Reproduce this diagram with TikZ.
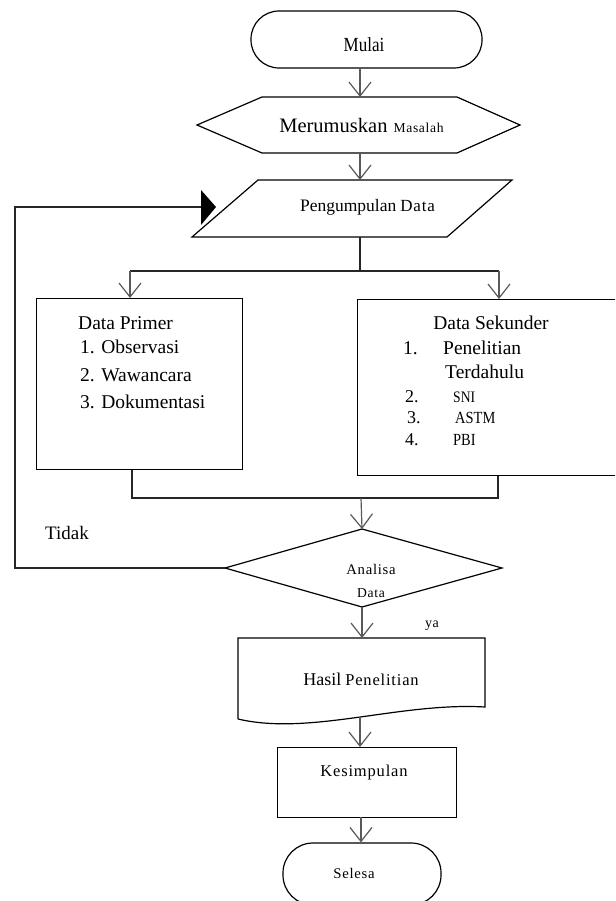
\documentclass[tikz,border=0pt]{standalone}
\usepackage{fontspec}
\setmainfont{Liberation Serif}
\newfontfamily\spc[LetterSpace=5]{Liberation Serif}
\newfontfamily\cnd[FakeStretch=0.85]{Liberation Serif}
\newcommand\fsz[1]{\fontsize{#1}{#1}\selectfont}
\usetikzlibrary{arrows.meta}
\begin{document}
\begin{tikzpicture}[x=1pt,y=-1pt,
  shp/.style={draw=black,line width=1.2pt},
  arr/.style={draw=black!65,line width=1.2pt,-{Straight Barb[length=14pt,width=22pt]}},
  ln/.style={draw=black!85,line width=1.3pt},
  txt/.style={inner sep=0pt}]
\useasboundingbox (0,0) rectangle (615,901);
\fill[white] (0,0) rectangle (615,901);
\clip (0,0) rectangle (615,901);

% Mulai
\node[shp,rounded corners=28pt,minimum width=231pt,minimum height=57pt,inner sep=0pt] (mulai) at (366.5,39.5) {};
\node[txt] (tmulai) at (364,45) {\cnd\fsz{20}Mulai};

% Merumuskan Masalah
\coordinate (hT) at (360,97);
\coordinate (hB) at (360,153);
\draw[shp] (197,125) -- (262,97) -- (457,97) -- (520,125) -- (457,153) -- (262,153) -- cycle;
\node[txt] (trumus) at (361.5,125) {\fsz{20.5}Merumuskan\hspace{6pt}{\spc\fsz{13.6}Masalah}};
\coordinate (m0) at (360,68);
\draw[arr] (m0) -- (hT);

% Pengumpulan Data
\coordinate (pT) at (360,180);
\coordinate (pB) at (360,237);
\draw[shp] (258,180) -- (512,180) -- (447,237) -- (192,237) -- cycle;
\node[txt] (tpeng) at (367.5,207) {\fsz{17.5}Pengumpulan\hspace{4pt}{\spc\fsz{17}Data}};
\draw[arr] (hB) -- (pT);

% branch
\coordinate (br) at (360,271);
\coordinate (brL) at (130,271);
\coordinate (brR) at (499,271);
\draw[ln] (pB) -- (br);
\draw[ln] (brL) -- (brR);

% Data Primer
\node[shp,anchor=north west,minimum width=206pt,minimum height=171pt,inner sep=0pt] (prim) at (36,298) {};
\draw[arr] (brL) -- (brL |- prim.north);
\node[txt,anchor=base west] (p0) at (78,329.5) {\fsz{19.5}Data Primer};
\node[txt,anchor=base west] (p1) at (80,353.5) {\fsz{19.5}1. Observasi};
\node[txt,anchor=base west] (p2) at (80,381.5) {\fsz{19.5}2. Wawancara};
\node[txt,anchor=base west] (p3) at (80,408.5) {\fsz{19.5}3. Dokumentasi};

% Data Sekunder
\node[shp,anchor=north west,minimum width=268pt,minimum height=176pt,inner sep=0pt] (sek) at (357,299) {};
\draw[arr] (brR) -- (brR |- sek.north);
\node[txt,anchor=base] (s0) at (491,329.5) {\fsz{19.5}Data Sekunder};
\node[txt,anchor=base west] (s1n) at (403,354.5) {\fsz{19.5}1.};
\node[txt,anchor=base west] (s1) at (443,354.5) {\fsz{19.5}Penelitian};
\node[txt,anchor=base west] (s1b) at (445,378.5) {\fsz{19.5}Terdahulu};
\node[txt,anchor=base west] (s2n) at (405,402) {\fsz{18}2.};
\node[txt,anchor=base west] (s2) at (453,402) {\cnd\fsz{16}SNI};
\node[txt,anchor=base west] (s3n) at (407,423) {\fsz{18}3.};
\node[txt,anchor=base west] (s3) at (455,423) {\cnd\fsz{17}ASTM};
\node[txt,anchor=base west] (s4n) at (405,445) {\fsz{18}4.};
\node[txt,anchor=base west] (s4) at (453,445) {\cnd\fsz{17}PBI};

% merge
\coordinate (mL) at (132,498);
\coordinate (mR) at (498,498);
\coordinate (mM) at (361,498);
\draw[ln] (mL |- prim.south) -- (mL) -- (mR) -- (mR |- sek.south);

% Analisa Data
\coordinate (dT) at (362,529);
\coordinate (dL) at (225,568);
\coordinate (dR) at (502,568);
\coordinate (dB) at (362,607);
\draw[shp] (dT) -- (dR) -- (dB) -- (dL) -- cycle;
\draw[arr] (mM) -- (dT);
\node[txt] (ta1) at (371,569) {\spc\fsz{14.7}Analisa};
\node[txt] (ta2) at (371,593) {\spc\fsz{13.6}Data};

% loop (Tidak)
\coordinate (lp1) at (15,568);
\coordinate (lp2) at (15,207);
\coordinate (lpE) at (203,207);
\draw[ln] (dL) -- (lp1) -- (lp2) -- (lpE);
\fill[black] (201,190) -- (216,207) -- (201,225) -- cycle;
\node[txt,anchor=base west] (tidak) at (45,539) {\fsz{19}Tidak};

% ya
\node[txt] (tya) at (432,626) {\spc\fsz{14}ya};

% Hasil Penelitian
\coordinate (hsT) at (362,638);
\coordinate (hsB) at (360,717);
\draw[shp] (238,719) -- (238,638) -- (485,638) -- (485,707) .. controls (400,702) and (310,736) .. (238,719);
\draw[arr] (dB) -- (hsT);
\node[txt] (thasil) at (361,679) {\fsz{18}Hasil\hspace{4pt}{\spc\fsz{16.5}Penelitian}};

% Kesimpulan
\node[shp,anchor=north west,minimum width=179pt,minimum height=70pt,inner sep=0pt] (kes) at (277,747) {};
\draw[arr] (hsB) -- (hsB |- kes.north);
\node[txt] (tkes) at (364,773) {\spc\fsz{16.5}Kesimpulan};

% Selesai
\node[shp,rounded corners=30pt,minimum width=158pt,minimum height=62pt,inner sep=0pt] (sel) at (362,874) {};
\coordinate (kb) at (361,817);
\draw[arr] (kb) -- (kb |- sel.north);
\node[txt] (tsel) at (354,873) {\spc\fsz{14.7}Selesa};
\end{tikzpicture}
\end{document}
